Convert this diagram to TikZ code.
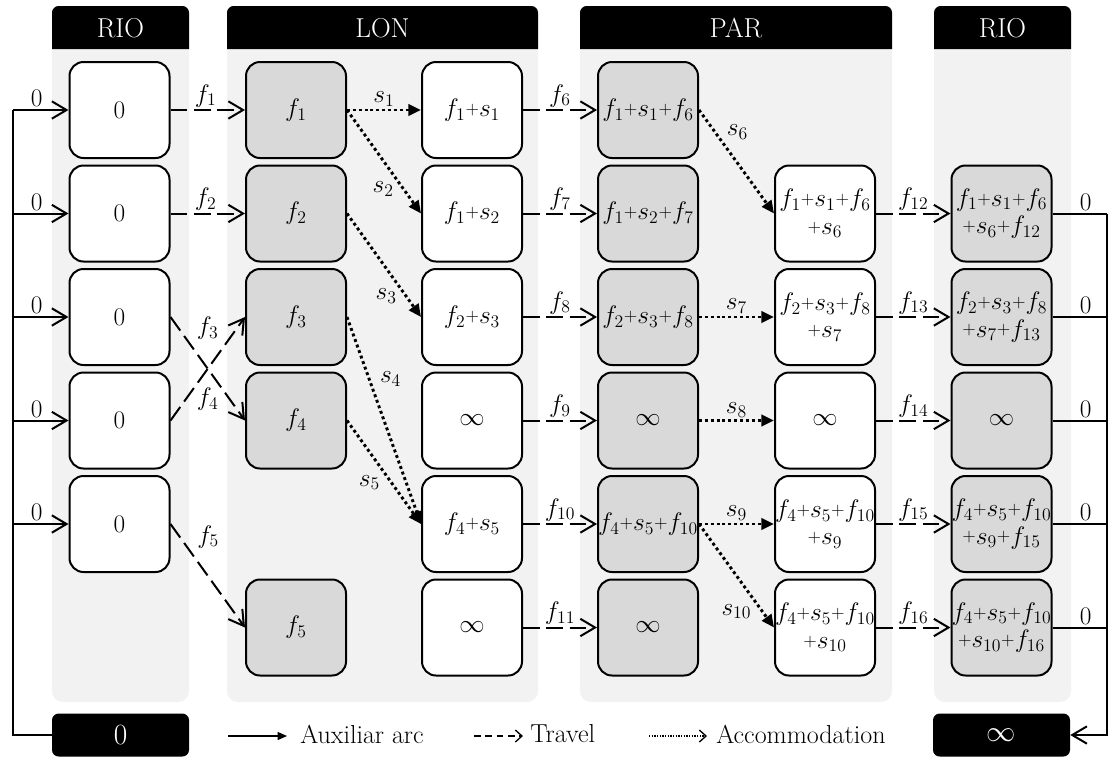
\RequirePackage{fix-cm}
\documentclass[tikz,border=0pt]{standalone}
\usetikzlibrary{arrows.meta}
\definecolor{panelgray}{HTML}{F2F2F2}
\definecolor{nodegray}{HTML}{D9D9D9}
\newcommand\fs{\fontsize{19}{20.5}\selectfont}
\newcommand\fh{\fontsize{20.5}{22}\selectfont}
\newcommand\fl{\fontsize{19.5}{22}\selectfont}
\newcommand\fb{\fontsize{22}{24}\selectfont}
\newcommand\pl{\mathord{\raisebox{.08em}{$\scriptstyle+$}}}
\tikzset{
  box/.style={draw=black, line width=1.5pt, rounded corners=10.5pt,
    minimum width=75pt, minimum height=72pt, align=center, inner sep=0pt, font=\fs},
  wbox/.style={box, fill=white},
  gbox/.style={box, fill=nodegray},
  hdtxt/.style={text=white, font=\fh, inner sep=0pt},
  botbox/.style={fill=black, text=white, rounded corners=5pt, font=\fb,
    minimum width=102.75pt, minimum height=32.25pt, inner sep=0pt},
  lbl/.style={font=\fs, inner sep=1.5pt},
  barb/.tip={Straight Barb[length=11pt, width=13pt, line width=1.5pt]},
  aux/.style={line width=1.5pt, -barb},
  trav/.style={line width=1.5pt, dash pattern=on 12.5pt off 5pt, -barb},
  acc/.style={line width=2.2pt, dash pattern=on 2.2pt off 2.2pt,
    -{Triangle[length=9.5pt, width=8.5pt]}},
  legaux/.style={line width=1pt, -{Triangle[length=7pt, width=6pt]}},
  legtrav/.style={line width=1pt, dash pattern=on 5pt off 3.5pt,
    -{Straight Barb[length=5pt, width=9pt, line width=1pt]}},
  legacc/.style={line width=1pt, dash pattern=on 1pt off 1pt,
    -{Straight Barb[length=5pt, width=9pt, line width=1pt]}},
  lgtxt/.style={font=\fl, inner sep=0pt, anchor=west}
}
\begin{document}
\begin{tikzpicture}[x=0.75pt, y=-0.75pt]
\useasboundingbox (0,0) rectangle (1109,758);

% city panels
\foreach \xa/\xb in {52/189, 227/538, 580/892, 934/1071}{
  \fill[panelgray] (\xa,49) [rounded corners=8pt] -- (\xa,702) -- (\xb,702)
    [sharp corners] -- (\xb,49) -- cycle;
  \fill[black] (\xa,49) [rounded corners=5pt] -- (\xa,6) -- (\xb,6)
    [sharp corners] -- (\xb,49) -- cycle;
}
\node[hdtxt] (hA) at (120.5,28) {RIO};
\node[hdtxt] (hB) at (382.5,28) {LON};
\node[hdtxt] (hD) at (736,28) {PAR};
\node[hdtxt] (hF) at (1002.5,28) {RIO};

% departure column
\node[wbox] (A1) at (119.5,110) {0};
\node[wbox] (A2) at (119.5,213.5) {0};
\node[wbox] (A3) at (119.5,317) {0};
\node[wbox] (A4) at (119.5,420.5) {0};
\node[wbox] (A5) at (119.5,524) {0};

% London arrivals
\node[gbox] (B1) at (296,110) {$f_1$};
\node[gbox] (B2) at (296,213.5) {$f_2$};
\node[gbox] (B3) at (296,317) {$f_3$};
\node[gbox] (B4) at (296,420.5) {$f_4$};
\node[gbox] (B6) at (296,627.5) {$f_5$};

% London departures
\node[wbox] (C1) at (472,110) {$f_1\pl s_1$};
\node[wbox] (C2) at (472,213.5) {$f_1\pl s_2$};
\node[wbox] (C3) at (472,317) {$f_2\pl s_3$};
\node[wbox] (C4) at (472,420.5) {$\infty$};
\node[wbox] (C5) at (472,524) {$f_4\pl s_5$};
\node[wbox] (C6) at (472,627.5) {$\infty$};

% Paris arrivals
\node[gbox] (D1) at (648,110) {$f_1\pl s_1\pl f_6$};
\node[gbox] (D2) at (648,213.5) {$f_1\pl s_2\pl f_7$};
\node[gbox] (D3) at (648,317) {$f_2\pl s_3\pl f_8$};
\node[gbox] (D4) at (648,420.5) {$\infty$};
\node[gbox] (D5) at (648,524) {$f_4\pl s_5\pl f_{10}$};
\node[gbox] (D6) at (648,627.5) {$\infty$};

% Paris departures
\node[wbox] (E2) at (825,213.5) {$f_1\pl s_1\pl f_6$\\$\pl s_6$};
\node[wbox] (E3) at (825,317) {$f_2\pl s_3\pl f_8$\\$\pl s_7$};
\node[wbox] (E4) at (825,420.5) {$\infty$};
\node[wbox] (E5) at (825,524) {$f_4\pl s_5\pl f_{10}$\\$\pl s_9$};
\node[wbox] (E6) at (825,627.5) {$f_4\pl s_5\pl f_{10}$\\$\pl s_{10}$};

% return to Rio
\node[gbox] (F2) at (1001.5,213.5) {$f_1\pl s_1\pl f_6$\\$\pl s_6\pl f_{12}$};
\node[gbox] (F3) at (1001.5,317) {$f_2\pl s_3\pl f_8$\\$\pl s_7\pl f_{13}$};
\node[gbox] (F4) at (1001.5,420.5) {$\infty$};
\node[gbox] (F5) at (1001.5,524) {$f_4\pl s_5\pl f_{10}$\\$\pl s_9\pl f_{15}$};
\node[gbox] (F6) at (1001.5,627.5) {$f_4\pl s_5\pl f_{10}$\\$\pl s_{10}\pl f_{16}$};

% source and sink
\node[botbox] (z0) at (120.5,735) {0};
\node[botbox] (zinf) at (1001.5,735) {$\infty$};

% auxiliary arcs: source side
\coordinate (Lt) at (13,110);
\draw[line width=1.5pt] (Lt) |- (z0.west);
\foreach \n in {1,...,5}{
  \draw[aux] (Lt |- A\n.west) -- (A\n.west)
    node[lbl, midway, above, xshift=-3pt] {0};
}
% auxiliary arcs: sink side
\coordinate (Rt) at (1107,213.5);
\foreach \n in {2,...,6}{
  \draw[line width=1.5pt] (F\n.east) -- (Rt |- F\n.east)
    node[lbl, midway, above, xshift=4.5pt] {0};
}
\draw[aux] (Rt) |- (zinf.east);

% travel arcs
\draw[trav] (A1.east) -- (B1.west) node[lbl, midway, above, xshift=-1.5pt] {$f_1$};
\draw[trav] (A2.east) -- (B2.west) node[lbl, midway, above, xshift=-1.5pt] {$f_2$};
\draw[trav] (A4.east) -- (B3.west) node[lbl, pos=.5, yshift=30.5pt] {$f_3$};
\draw[trav] (A3.east) -- (B4.west) node[lbl, pos=.5, yshift=-23pt] {$f_4$};
\draw[trav] (A5.east) -- (B6.west) node[lbl, pos=.2, xshift=17pt, yshift=6pt] {$f_5$};
\draw[trav] (C1.east) -- (D1.west) node[lbl, midway, above] {$f_6$};
\draw[trav] (C2.east) -- (D2.west) node[lbl, midway, above] {$f_7$};
\draw[trav] (C3.east) -- (D3.west) node[lbl, midway, above] {$f_8$};
\draw[trav] (C4.east) -- (D4.west) node[lbl, midway, above] {$f_9$};
\draw[trav] (C5.east) -- (D5.west) node[lbl, midway, above] {$f_{10}$};
\draw[trav] (C6.east) -- (D6.west) node[lbl, midway, above] {$f_{11}$};
\draw[trav] (E2.east) -- (F2.west) node[lbl, midway, above] {$f_{12}$};
\draw[trav] (E3.east) -- (F3.west) node[lbl, midway, above] {$f_{13}$};
\draw[trav] (E4.east) -- (F4.west) node[lbl, midway, above] {$f_{14}$};
\draw[trav] (E5.east) -- (F5.west) node[lbl, midway, above] {$f_{15}$};
\draw[trav] (E6.east) -- (F6.west) node[lbl, midway, above] {$f_{16}$};

% accommodation arcs
\draw[acc] (B1.east) -- (C1.west) node[lbl, midway, above] {$s_1$};
\draw[acc] (B1.east) -- (C2.west) node[lbl, pos=.76, xshift=-15pt] {$s_2$};
\draw[acc] (B2.east) -- (C3.west) node[lbl, pos=.8, xshift=-15pt] {$s_3$};
\draw[acc] (B3.east) -- (C5.west) node[lbl, pos=.3, xshift=16pt] {$s_4$};
\draw[acc] (B4.east) -- (C5.west) node[lbl, pos=.6, xshift=-16.5pt] {$s_5$};
\draw[acc] (D1.east) -- (E2.west) node[lbl, pos=.21, xshift=17pt] {$s_6$};
\draw[acc] (D3.east) -- (E3.west) node[lbl, midway, above] {$s_7$};
\draw[acc] (D4.east) -- (E4.west) node[lbl, midway, above] {$s_8$};
\draw[acc] (D5.east) -- (E5.west) node[lbl, midway, above] {$s_9$};
\draw[acc] (D5.east) -- (E6.west) node[lbl, pos=.845, xshift=-19.5pt] {$s_{10}$};

% legend
\coordinate (la0) at (228,736);
\coordinate (la1) at (287,736);
\draw[legaux] (la0) -- (la1);
\node[lgtxt] (lat) at (300,734) {Auxiliar arc};
\coordinate (lb0) at (474,736);
\coordinate (lb1) at (523,736);
\draw[legtrav] (lb0) -- (lb1);
\node[lgtxt] (lbt) at (530,734) {Travel};
\coordinate (lc0) at (649,736);
\coordinate (lc1) at (707,736);
\draw[legacc] (lc0) -- (lc1);
\node[lgtxt] (lct) at (716,734) {Accommodation};
\end{tikzpicture}
\end{document}
